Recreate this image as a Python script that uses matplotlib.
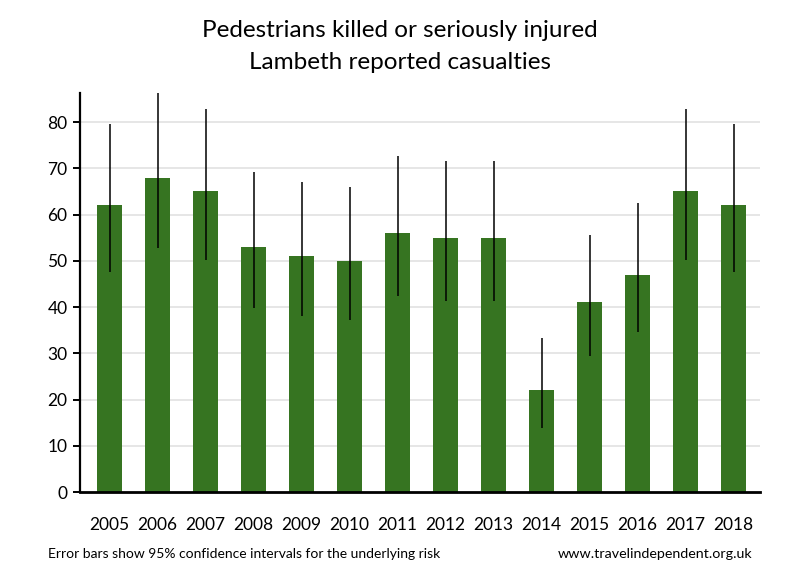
import matplotlib
matplotlib.use("Agg")
import matplotlib.pyplot as plt
import numpy as np

plt.rcParams["font.family"] = ["Lato", "DejaVu Sans"]

# values
years = ["2005", "2006", "2007", "2008", "2009", "2010", "2011",
         "2012", "2013", "2014", "2015", "2016", "2017", "2018"]
casualties = [62, 68, 65, 53, 51, 50, 56, 55, 55, 22, 41, 47, 65, 62]
ci_low = [47.5, 52.8, 50.2, 39.7, 38.0, 37.1, 42.3, 41.4, 41.4, 13.8, 29.4, 34.5, 50.2, 47.5]
ci_high = [79.5, 86.2, 82.8, 69.3, 67.1, 65.9, 72.7, 71.6, 71.6, 33.3, 55.6, 62.5, 82.8, 79.5]

fig = plt.figure(figsize=(8, 5.8), dpi=100)
ax = fig.add_axes([0.1, 0.1517, 0.85, 0.688])

x = np.arange(len(years))
y = np.array(casualties)
err = [y - np.array(ci_low), np.array(ci_high) - y]

ax.bar(x, y, width=0.52, color="#367421", zorder=2)
ax.errorbar(x, y, yerr=err, fmt="none", ecolor="black", elinewidth=1.1,
            capsize=0, zorder=3)

ax.set_xlim(-0.615, 13.55)
ax.set_ylim(0, 86.3)
ax.set_yticks(range(0, 81, 10))
ax.set_xticks(x)
ax.set_xticklabels(years)

# grid lines only above zero
for v in range(10, 81, 10):
    ax.axhline(v, color="#e6e6e6", lw=1.4, zorder=1)

for s in ["top", "right"]:
    ax.spines[s].set_visible(False)
ax.spines["left"].set_linewidth(1.6)
ax.spines["bottom"].set_linewidth(2)
ax.tick_params(axis="y", length=5, width=1.4, labelsize=12.5, pad=4)
ax.tick_params(axis="x", length=0, labelsize=12.5, pad=18)

fig.text(0.5, 0.948, "Pedestrians killed or seriously injured", ha="center",
         va="center", fontsize=17.5)
fig.text(0.5, 0.893, "Lambeth reported casualties", ha="center",
         va="center", fontsize=17.5)

fig.text(0.06, 0.045, "Error bars show 95% confidence intervals for the underlying risk",
         ha="left", va="center", fontsize=10)
fig.text(0.94, 0.045, "www.travelindependent.org.uk",
         ha="right", va="center", fontsize=10.3)

fig.savefig("out.png", dpi=100)
